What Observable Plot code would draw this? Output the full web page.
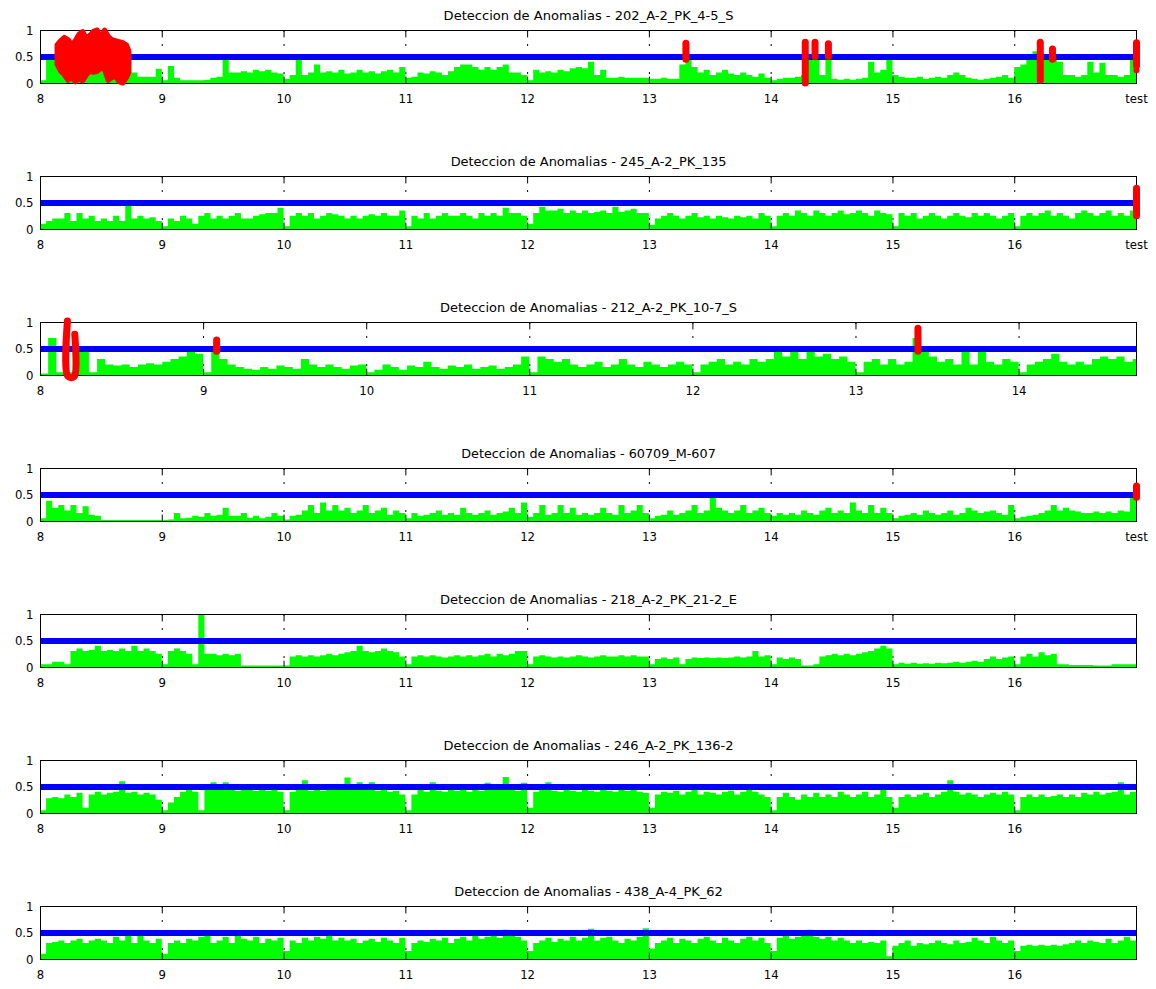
<!DOCTYPE html>
<html><head><meta charset="utf-8">
<script src="https://cdn.jsdelivr.net/npm/d3@7"></script>
<script src="https://cdn.jsdelivr.net/npm/@observablehq/plot@0.6"></script>
<style>
html,body{margin:0;padding:0;background:#fff;overflow:hidden;}
#c{width:1156px;}
#c svg{display:block;}
</style></head><body><div id="c"></div>
<script>
// ---------- data ----------
const titles = [
  "Deteccion de Anomalias - 202_A-2_PK_4-5_S",
  "Deteccion de Anomalias - 245_A-2_PK_135",
  "Deteccion de Anomalias - 212_A-2_PK_10-7_S",
  "Deteccion de Anomalias - 60709_M-607",
  "Deteccion de Anomalias - 218_A-2_PK_21-2_E",
  "Deteccion de Anomalias - 246_A-2_PK_136-2",
  "Deteccion de Anomalias - 438_A-4_PK_62"
];
const xStart = 8, xStep = 0.05;
const ticksTest = [8, 9, 10, 11, 12, 13, 14, 15, 16, 17];
const ticksPlain = [8, 9, 10, 11, 12, 13, 14, 15, 16];
const ticksShort = [8, 9, 10, 11, 12, 13, 14];
const testLabel = "test";
const threshold = 0.5;

const p1Green = [
 0.05,0.45,0.5,0.4,0.4,0.45,0.4,0.45,0.4,0.45,0.4,0.45,0.4,0.4,0.45,0.2,0.12,0.12,0.12,0.27,
 0.05,0.32,0.1,0.05,0.05,0.05,0.05,0.06,0.1,0.12,0.45,0.2,0.2,0.22,0.2,0.25,0.22,0.25,0.2,0.18,
 0.08,0.15,0.47,0.15,0.2,0.35,0.2,0.22,0.2,0.25,0.18,0.2,0.25,0.2,0.22,0.18,0.22,0.25,0.2,0.3,
 0.1,0.12,0.2,0.18,0.22,0.2,0.15,0.22,0.3,0.35,0.35,0.3,0.25,0.3,0.25,0.3,0.35,0.2,0.2,0.15,
 0.05,0.25,0.2,0.22,0.2,0.25,0.22,0.28,0.3,0.28,0.4,0.15,0.25,0.1,0.1,0.12,0.1,0.1,0.1,0.1,
 0.08,0.08,0.1,0.08,0.08,0.35,0.5,0.3,0.2,0.25,0.15,0.2,0.25,0.18,0.15,0.2,0.15,0.12,0.18,0.1,
 0.05,0.08,0.1,0.1,0.12,0.15,0.5,0.45,0.15,0.45,0.08,0.06,0.08,0.06,0.08,0.1,0.4,0.2,0.25,0.45,
 0.15,0.12,0.1,0.1,0.12,0.08,0.1,0.12,0.1,0.15,0.2,0.15,0.1,0.08,0.06,0.08,0.1,0.12,0.15,0.1,
 0.3,0.35,0.45,0.6,0.45,0.45,0.45,0.4,0.15,0.15,0.12,0.15,0.4,0.2,0.38,0.15,0.15,0.12,0.15,0.5
];
const p2Green = [
 0.1,0.15,0.2,0.2,0.3,0.15,0.3,0.2,0.25,0.15,0.2,0.15,0.25,0.15,0.45,0.2,0.25,0.2,0.22,0.15,
 0.05,0.2,0.15,0.25,0.2,0.1,0.25,0.3,0.2,0.25,0.2,0.25,0.3,0.2,0.2,0.25,0.28,0.3,0.3,0.4,
 0.05,0.25,0.3,0.25,0.3,0.2,0.25,0.3,0.28,0.25,0.2,0.25,0.2,0.25,0.28,0.25,0.3,0.25,0.25,0.35,
 0.05,0.25,0.2,0.3,0.2,0.25,0.3,0.25,0.25,0.3,0.25,0.2,0.3,0.25,0.3,0.25,0.4,0.3,0.3,0.25,
 0.1,0.3,0.42,0.35,0.35,0.38,0.3,0.35,0.3,0.35,0.3,0.32,0.35,0.3,0.42,0.32,0.35,0.38,0.3,0.3,
 0.08,0.2,0.25,0.3,0.25,0.2,0.25,0.3,0.22,0.25,0.2,0.25,0.22,0.2,0.25,0.22,0.25,0.2,0.3,0.25,
 0.05,0.25,0.3,0.25,0.35,0.3,0.25,0.35,0.3,0.25,0.3,0.35,0.28,0.3,0.35,0.3,0.25,0.35,0.3,0.28,
 0.05,0.3,0.25,0.3,0.2,0.25,0.3,0.25,0.2,0.25,0.3,0.25,0.22,0.3,0.25,0.3,0.25,0.2,0.25,0.3,
 0.05,0.25,0.3,0.25,0.3,0.35,0.25,0.3,0.25,0.2,0.3,0.35,0.3,0.25,0.3,0.35,0.25,0.3,0.25,0.35
];
const p3Green = [
 0.03,0.7,0.05,0.05,0.5,0.5,0.05,0.3,0.2,0.18,0.2,0.15,0.2,0.22,0.2,0.25,0.3,0.35,0.45,0.4,
 0.05,0.45,0.3,0.2,0.15,0.12,0.1,0.15,0.12,0.18,0.15,0.12,0.3,0.2,0.15,0.2,0.15,0.12,0.18,0.2,
 0.05,0.1,0.2,0.15,0.1,0.18,0.15,0.25,0.15,0.12,0.18,0.15,0.2,0.12,0.15,0.18,0.12,0.15,0.2,0.35,
 0.05,0.35,0.3,0.25,0.3,0.2,0.15,0.2,0.25,0.15,0.2,0.3,0.2,0.15,0.25,0.2,0.15,0.2,0.25,0.2,
 0.05,0.2,0.25,0.3,0.2,0.25,0.2,0.3,0.25,0.3,0.45,0.35,0.45,0.3,0.45,0.35,0.4,0.3,0.35,0.25,
 0.05,0.25,0.3,0.2,0.3,0.2,0.25,0.7,0.5,0.35,0.25,0.3,0.2,0.45,0.2,0.45,0.25,0.2,0.3,0.25,
 0.05,0.2,0.25,0.3,0.4,0.25,0.2,0.25,0.2,0.3,0.35,0.3,0.35,0.25,0.3
];
const p4Green = [
 0.05,0.38,0.25,0.3,0.2,0.3,0.15,0.28,0.12,0.1,0.02,0.02,0.02,0.02,0.02,0.02,0.02,0.02,0.02,0.02,
 0.02,0.03,0.15,0.05,0.06,0.1,0.08,0.15,0.1,0.12,0.25,0.1,0.1,0.15,0.06,0.1,0.05,0.08,0.15,0.1,
 0.03,0.1,0.12,0.2,0.3,0.15,0.35,0.2,0.3,0.2,0.25,0.15,0.2,0.3,0.15,0.2,0.25,0.12,0.2,0.15,
 0.05,0.15,0.1,0.12,0.15,0.2,0.12,0.15,0.12,0.25,0.15,0.12,0.15,0.2,0.12,0.15,0.18,0.25,0.15,0.35,
 0.08,0.15,0.3,0.12,0.15,0.3,0.15,0.25,0.12,0.15,0.12,0.15,0.25,0.15,0.12,0.3,0.15,0.2,0.3,0.15,
 0.05,0.1,0.12,0.2,0.12,0.15,0.2,0.3,0.15,0.2,0.45,0.25,0.2,0.15,0.2,0.3,0.15,0.2,0.25,0.15,
 0.1,0.15,0.12,0.15,0.12,0.2,0.15,0.12,0.2,0.25,0.15,0.2,0.15,0.35,0.2,0.15,0.3,0.15,0.25,0.15,
 0.05,0.1,0.12,0.15,0.12,0.2,0.15,0.12,0.15,0.2,0.12,0.15,0.25,0.2,0.15,0.18,0.2,0.15,0.12,0.3,
 0.05,0.08,0.1,0.12,0.15,0.2,0.3,0.2,0.25,0.2,0.18,0.15,0.15,0.18,0.15,0.18,0.15,0.2,0.18,0.45
];
const p5Green = [
 0.05,0.05,0.1,0.1,0.05,0.3,0.35,0.3,0.32,0.4,0.3,0.32,0.3,0.35,0.3,0.4,0.3,0.35,0.3,0.25,
 0.05,0.3,0.35,0.3,0.25,0.05,1.0,0.25,0.25,0.22,0.25,0.22,0.25,0.03,0.03,0.03,0.03,0.03,0.03,0.03,
 0.03,0.2,0.22,0.2,0.22,0.2,0.22,0.25,0.22,0.25,0.28,0.3,0.4,0.3,0.28,0.3,0.35,0.3,0.28,0.2,
 0.05,0.2,0.22,0.2,0.22,0.2,0.18,0.2,0.22,0.2,0.22,0.2,0.22,0.25,0.2,0.25,0.22,0.25,0.3,0.3,
 0.05,0.2,0.22,0.2,0.18,0.2,0.18,0.2,0.22,0.2,0.18,0.2,0.22,0.2,0.2,0.22,0.2,0.22,0.2,0.2,
 0.05,0.15,0.18,0.15,0.18,0.05,0.15,0.18,0.17,0.18,0.17,0.18,0.17,0.18,0.2,0.18,0.2,0.3,0.2,0.22,
 0.05,0.18,0.15,0.18,0.15,0.03,0.03,0.05,0.2,0.22,0.25,0.22,0.25,0.22,0.25,0.28,0.3,0.35,0.4,0.35,
 0.05,0.08,0.06,0.08,0.06,0.07,0.06,0.08,0.07,0.08,0.1,0.08,0.1,0.12,0.1,0.15,0.2,0.15,0.18,0.2,
 0.05,0.2,0.25,0.2,0.28,0.22,0.25,0.05,0.05,0.04,0.04,0.04,0.04,0.03,0.03,0.03,0.05,0.05,0.05,0.05
];
const p6Green = [
 0.05,0.28,0.3,0.28,0.35,0.3,0.38,0.1,0.35,0.4,0.35,0.38,0.4,0.6,0.38,0.4,0.35,0.38,0.35,0.25,
 0.05,0.2,0.3,0.4,0.45,0.4,0.05,0.45,0.58,0.45,0.58,0.45,0.42,0.45,0.48,0.42,0.45,0.42,0.45,0.4,
 0.05,0.4,0.45,0.62,0.42,0.45,0.42,0.45,0.48,0.45,0.67,0.45,0.58,0.45,0.58,0.42,0.45,0.4,0.42,0.35,
 0.05,0.35,0.45,0.4,0.58,0.42,0.4,0.45,0.42,0.45,0.4,0.45,0.42,0.57,0.45,0.48,0.68,0.45,0.42,0.57,
 0.1,0.4,0.45,0.58,0.42,0.4,0.45,0.42,0.4,0.45,0.42,0.4,0.45,0.42,0.4,0.45,0.42,0.45,0.4,0.38,
 0.1,0.35,0.4,0.38,0.42,0.35,0.4,0.45,0.35,0.4,0.38,0.35,0.4,0.42,0.35,0.4,0.45,0.4,0.35,0.3,
 0.05,0.3,0.38,0.3,0.25,0.35,0.3,0.38,0.3,0.35,0.3,0.4,0.35,0.3,0.35,0.4,0.3,0.35,0.45,0.3,
 0.1,0.3,0.35,0.3,0.35,0.38,0.3,0.35,0.4,0.62,0.4,0.35,0.38,0.35,0.3,0.35,0.38,0.35,0.4,0.35,
 0.05,0.3,0.35,0.3,0.35,0.3,0.32,0.35,0.3,0.35,0.3,0.38,0.35,0.4,0.35,0.38,0.4,0.58,0.35,0.4
];
const p7Green = [
 0.1,0.3,0.32,0.35,0.3,0.35,0.38,0.3,0.35,0.38,0.35,0.3,0.42,0.35,0.45,0.3,0.45,0.35,0.3,0.38,
 0.1,0.3,0.35,0.3,0.38,0.35,0.42,0.45,0.3,0.35,0.42,0.3,0.45,0.38,0.35,0.42,0.3,0.38,0.35,0.4,
 0.15,0.35,0.3,0.4,0.35,0.42,0.38,0.45,0.35,0.4,0.35,0.38,0.3,0.35,0.38,0.32,0.4,0.35,0.3,0.4,
 0.15,0.3,0.35,0.32,0.38,0.35,0.4,0.3,0.38,0.42,0.35,0.45,0.38,0.42,0.45,0.4,0.55,0.45,0.42,0.35,
 0.15,0.3,0.35,0.4,0.32,0.38,0.35,0.42,0.35,0.4,0.57,0.35,0.4,0.42,0.35,0.3,0.38,0.35,0.42,0.58,
 0.2,0.3,0.35,0.4,0.3,0.38,0.35,0.3,0.38,0.42,0.35,0.3,0.4,0.35,0.3,0.38,0.42,0.35,0.4,0.3,
 0.15,0.4,0.45,0.38,0.42,0.45,0.55,0.42,0.38,0.42,0.35,0.4,0.35,0.3,0.35,0.3,0.32,0.3,0.35,0.05,
 0.25,0.3,0.35,0.25,0.3,0.28,0.3,0.35,0.3,0.28,0.35,0.3,0.32,0.4,0.35,0.3,0.42,0.35,0.3,0.35,
 0.15,0.25,0.27,0.25,0.27,0.25,0.27,0.25,0.28,0.3,0.35,0.3,0.35,0.32,0.3,0.38,0.3,0.35,0.42,0.35
];

// anomaly markers (red): x, low, high
const p1RedX  = [13.3, 14.28, 14.36, 14.47, 16.21, 16.31, 17.0];
const p1RedLo = [0.45, 0.0, 0.5, 0.5, 0.05, 0.45, 0.32];
const p1RedHi = [0.75, 0.77, 0.77, 0.74, 0.77, 0.64, 0.76];
const p1DotX = [17.0], p1DotY = [0.25];
// dense anomaly cluster in panel 1 (envelope)
const blobX  = [8.14,8.17,8.2,8.23,8.26,8.29,8.32,8.35,8.38,8.41,8.44,8.47,8.5,8.53,8.56,8.59,8.62,8.65,8.68,8.71,8.73];
const blobLo = [0.35,0.22,0.15,0.05,0.1,0.02,0.08,0.04,0.15,0.22,0.2,0.22,0.28,0.25,0.05,0.1,0.12,0.02,0.0,0.1,0.2];
const blobHi = [0.72,0.8,0.86,0.82,0.72,0.8,0.92,0.97,0.85,0.9,0.98,1.0,0.85,1.0,0.88,0.82,0.8,0.78,0.76,0.72,0.6];
const p2RedX = [17.0], p2RedLo = [0.25], p2RedHi = [0.77];
const p3RedX = [9.08, 13.38], p3RedLo = [0.45, 0.45], p3RedHi = [0.66, 0.88];
const p3HookX = [8.165, 8.165, 8.19, 8.21, 8.21];
const p3HookY = [1.03, 0.0, -0.04, 0.0, 0.78];
const p4RedX = [17.0], p4RedLo = [0.45], p4RedHi = [0.66];

// ---------- build ----------
const GREEN = "#00ff00", BLUE = "#0000ff", RED = "#ff0000";
const FONT = "'DejaVu Sans Condensed','DejaVu Sans',sans-serif";

function series(values, end) {
  const rows = values.map((v, i) => ({x: xStart + i * xStep, y: v}));
  rows.push({x: end, y: values[values.length - 1]});
  return rows;
}
function segs(xs, lo, hi) { return xs.map((x, i) => ({x, lo: lo[i], hi: hi[i]})); }

const panels = [
  {values: p1Green, end: 17, ticks: ticksTest, red: segs(p1RedX, p1RedLo, p1RedHi),
   blob: blobX.map((x, i) => ({x, lo: blobLo[i], hi: blobHi[i]})),
   dots: p1DotX.map((x, i) => ({x, y: p1DotY[i]}))},
  {values: p2Green, end: 17, ticks: ticksTest, red: segs(p2RedX, p2RedLo, p2RedHi)},
  {values: p3Green, end: 14.72, ticks: ticksShort, red: segs(p3RedX, p3RedLo, p3RedHi),
   hook: p3HookX.map((x, i) => ({x, y: p3HookY[i]}))},
  {values: p4Green, end: 17, ticks: ticksTest, red: segs(p4RedX, p4RedLo, p4RedHi)},
  {values: p5Green, end: 17, ticks: ticksPlain, red: []},
  {values: p6Green, end: 17, ticks: ticksPlain, red: []},
  {values: p7Green, end: 17, ticks: ticksPlain, red: []}
];

const container = document.getElementById("c");
panels.forEach((p, k) => {
  const h = k === panels.length - 1 ? 113 : 146;
  const grid = p.ticks.filter(t => t > xStart && t < p.end);
  const marks = [
    Plot.ruleX(grid, {y1: 0, y2: 1, stroke: "#000", strokeWidth: 1, strokeDasharray: "2,12", strokeDashoffset: -9}),
    Plot.areaY(series(p.values, p.end), {x: "x", y: "y", curve: "step-after", fill: GREEN}),
    Plot.ruleY([threshold], {stroke: BLUE, strokeWidth: 6}),
    Plot.ruleX(grid, {y1: 1, y2: 0.86, stroke: "#000", strokeWidth: 1}),
    Plot.ruleX(grid, {y1: 0, y2: 0.12, stroke: "#000", strokeWidth: 1}),
    Plot.frame({stroke: "#000", strokeWidth: 1}),
    Plot.text([titles[k]], {frameAnchor: "top", lineAnchor: "middle", dy: -15, fontSize: 13, fill: "#000"})
  ];
  if (p.blob) marks.push(Plot.areaY(p.blob, {x: "x", y1: "lo", y2: "hi", fill: RED, stroke: RED, strokeWidth: 5, strokeLinejoin: "round"}));
  if (p.hook) marks.push(Plot.line(p.hook, {x: "x", y: "y", stroke: RED, strokeWidth: 7, strokeLinecap: "round", strokeLinejoin: "round", curve: "catmull-rom"}));
  if (p.red.length) marks.push(Plot.ruleX(p.red, {x: "x", y1: "lo", y2: "hi", stroke: RED, strokeWidth: 7, strokeLinecap: "round"}));
  if (p.dots) marks.push(Plot.dot(p.dots, {x: "x", y: "y", r: 3, fill: RED}));

  const svg = Plot.plot({
    width: 1156, height: h,
    marginLeft: 40, marginRight: 20, marginTop: 30, marginBottom: h - 83,
    x: {domain: [xStart, p.end], ticks: p.ticks, tickFormat: d => d === 17 ? testLabel : String(d),
        tickSize: 0, tickPadding: 10, label: null},
    y: {domain: [0, 1], ticks: [0, 0.5, 1], tickFormat: d => String(d), tickSize: 0, tickPadding: 7, label: null},
    style: {fontFamily: FONT, fontSize: "13px", color: "#000", background: "#fff", overflow: "visible"},
    marks
  });
  d3.select(svg).selectAll("text").style("font-stretch", "condensed");
  d3.select(svg).selectAll('g[aria-label="text"] text')
    .attr("textLength", titles[k].length * 7.07).attr("lengthAdjust", "spacingAndGlyphs");
  container.appendChild(svg);
});
</script>
</body></html>
